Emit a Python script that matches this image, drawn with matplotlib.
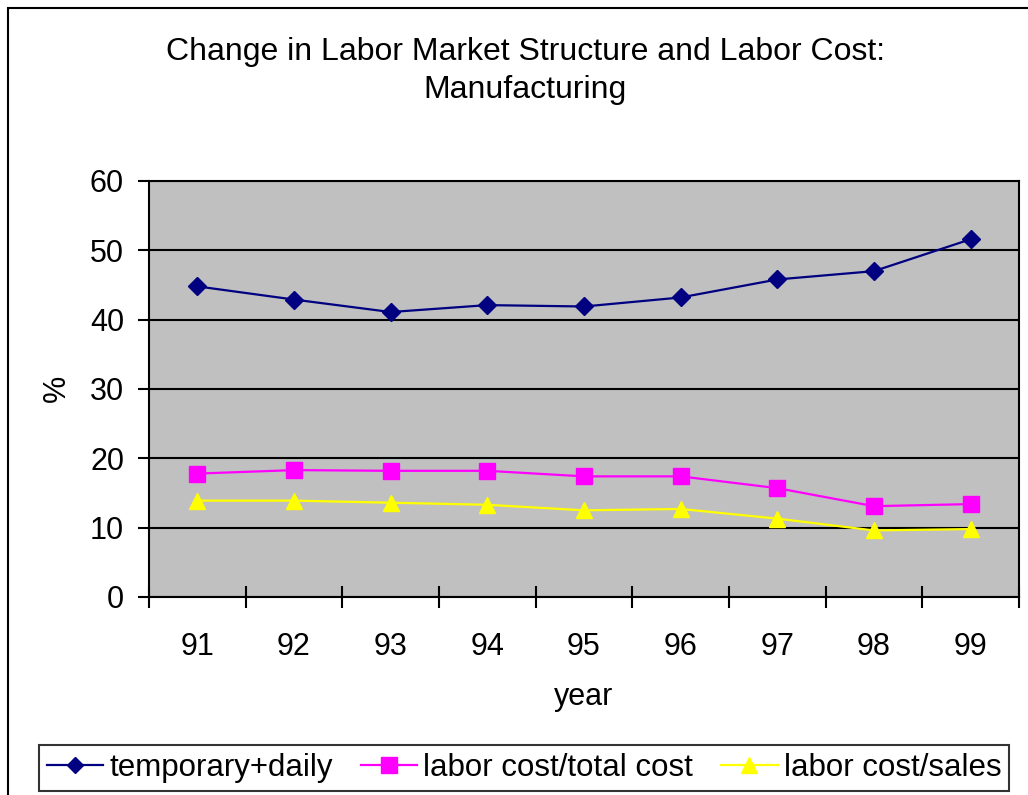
import numpy as np
import matplotlib.pyplot as plt
from matplotlib.patches import Rectangle

plt.rcParams['font.family'] = ['Liberation Sans', 'DejaVu Sans']

years = ['91', '92', '93', '94', '95', '96', '97', '98', '99']
temp_daily = [44.8, 42.9, 41.1, 42.1, 41.9, 43.2, 45.8, 47.0, 51.6]
cost_total = [17.8, 18.3, 18.2, 18.2, 17.4, 17.4, 15.7, 13.1, 13.4]
cost_sales = [13.9, 13.9, 13.6, 13.3, 12.5, 12.7, 11.3, 9.6, 9.8]

my_dpi = 100
W, H = 1028, 795
fig = plt.figure(figsize=(W/my_dpi, H/my_dpi), dpi=my_dpi)
ax = fig.add_axes([149/W, 1-597/H, (1019-149)/W, (597-181)/H])
ax.set_facecolor('#c0c0c0')

x = np.arange(len(years))
ax.plot(x, temp_daily, color='#000080', lw=1.6, marker='D', ms=9, label='temporary+daily')
ax.plot(x, cost_total, color='#ff00ff', lw=1.6, marker='s', ms=11.5, label='labor cost/total cost')
ax.plot(x, cost_sales, color='#ffff00', lw=1.6, marker='^', ms=12, label='labor cost/sales')

ax.set_xlim(-0.5, len(years)-0.5)
ax.set_ylim(0, 60)
ax.set_yticks(range(0, 61, 10))
ax.set_xticks(np.arange(-0.5, len(years), 1))
ax.set_xticklabels([])
ax.set_xticks(x, minor=True)
ax.set_xticklabels(years, minor=True)
ax.tick_params(axis='x', which='minor', length=0, pad=25, labelsize=22)
ax.tick_params(axis='x', which='major', length=16, width=1.5, direction='inout')
ax.tick_params(axis='y', length=8, width=1.5, direction='out', labelsize=22, pad=10)
ax.grid(axis='y', color='black', lw=1.5)
ax.set_axisbelow(True)
for s in ax.spines.values():
    s.set_linewidth(1.5)

fig.text(584/W, 1-697/H, 'year', ha='center', va='center', fontsize=22)
fig.text(57/W, 1-388/H, '%', ha='center', va='center', rotation=90, fontsize=22)
fig.text(525/W, 1-71/H, 'Change in Labor Market Structure and Labor Cost:\nManufacturing',
         ha='center', va='center', fontsize=23, linespacing=1.35)

leg = fig.legend(loc='center', bbox_to_anchor=(524/W, 1-768/H), ncol=3, fontsize=22.5,
                 frameon=True, fancybox=False, edgecolor='black', handlelength=1.8,
                 handletextpad=0.2, columnspacing=0.9, borderpad=0.25, borderaxespad=0,
                 markerscale=0.95)
leg.get_frame().set_linewidth(1.5)

fig.patches.append(Rectangle((8/W, -0.1), 1.2, 1-8/H+0.1, transform=fig.transFigure,
                             fill=False, edgecolor='black', lw=1.5))

plt.savefig('out.png', dpi=my_dpi)
